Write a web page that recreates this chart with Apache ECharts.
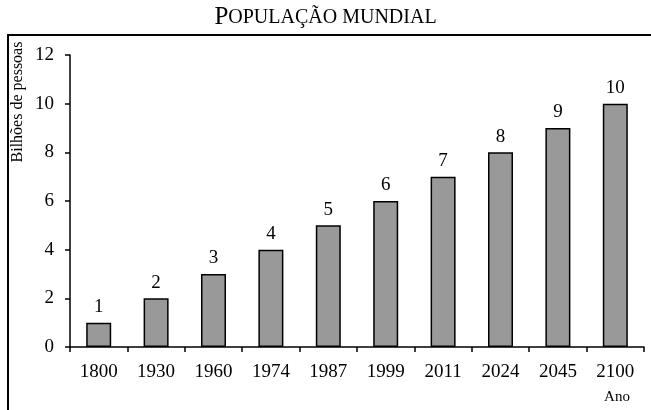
<!DOCTYPE html>
<html><head><meta charset="utf-8">
<script src="https://cdn.jsdelivr.net/npm/echarts@6/dist/echarts.min.js"></script>
<style>html,body{margin:0;padding:0;background:#fff}#c{width:651px;height:410px}</style>
</head><body><div id="c"></div>
<script>
const categories = ['1800','1930','1960','1974','1987','1999','2011','2024','2045','2100'];
const population = [1,2,3,4,5,6,7,8,9,10];
const yTicks = [0,2,4,6,8,10,12];
const titleFirst = 'P';
const titleRest = 'OPULAÇÃO MUNDIAL';
const yName = 'Bilhões de pessoas';
const xName = 'Ano';

const font = '"Liberation Serif","Times New Roman",serif';
const chart = echarts.init(document.getElementById('c'));
chart.setOption({
  animation: false,
  title: {
    text: '{a|' + titleFirst + '}{b|' + titleRest + '}',
    left: 'center', top: 0,
    textStyle: {
      fontWeight: 'normal',
      rich: {
        a: {fontFamily: font, fontSize: 25, fontWeight: 'normal', color: '#000'},
        b: {fontFamily: font, fontSize: 20, fontWeight: 'normal', color: '#000'}
      }
    }
  },
  graphic: [
    {type: 'rect', shape: {x: 8, y: 35, width: 800, height: 600}, style: {fill: 'none', stroke: '#000', lineWidth: 2}, z: 0},
    {type: 'text', x: 18, y: 102, rotation: Math.PI/2, style: {text: yName, fontFamily: font, fontSize: 16, fill: '#000', align: 'center', verticalAlign: 'middle'}},
    {type: 'text', x: 617, y: 397, style: {text: xName, fontFamily: font, fontSize: 15, fill: '#000', align: 'center', verticalAlign: 'middle'}}
  ],
  grid: {left: 70, right: 7, top: 55, bottom: 63, containLabel: false},
  xAxis: {
    type: 'category', data: categories,
    axisLine: {lineStyle: {color: '#000', width: 1.5}},
    axisTick: {show: true, length: 5, inside: false, lineStyle: {color: '#000', width: 1.5}},
    axisLabel: {fontFamily: font, fontSize: 19, color: '#000', margin: 16}
  },
  yAxis: {
    type: 'value', min: 0, max: 12, interval: 2,
    axisLine: {show: true, lineStyle: {color: '#000', width: 1.5}},
    axisTick: {show: true, length: 5, lineStyle: {color: '#000', width: 1.5}},
    splitLine: {show: false},
    axisLabel: {fontFamily: font, fontSize: 19, color: '#000', margin: 16,
      formatter: v => yTicks.includes(v) ? String(v) : ''}
  },
  series: [{
    type: 'bar', data: population, barWidth: 25,
    itemStyle: {color: '#999999', borderColor: '#000', borderWidth: 1.5},
    label: {show: true, position: 'top', distance: 6, fontFamily: font, fontSize: 19, color: '#000'}
  }]
});
</script></body></html>
